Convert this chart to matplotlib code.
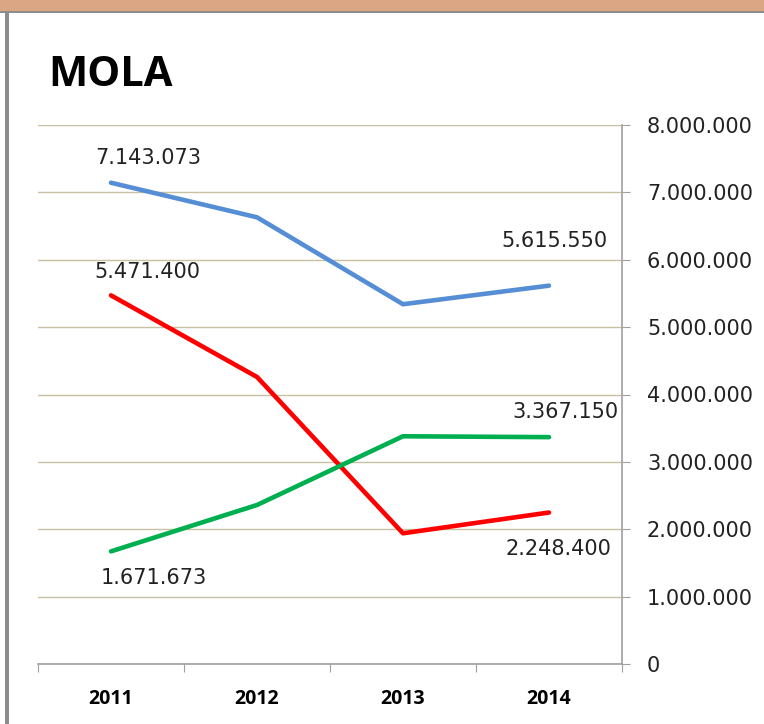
import matplotlib.pyplot as plt
from matplotlib.patches import Rectangle
from matplotlib.ticker import FuncFormatter

# Data
years = ['2011', '2012', '2013', '2014']
blue_vals = [7143073, 6630000, 5340000, 5615550]
red_vals = [5471400, 4260000, 1940000, 2248400]
green_vals = [1671673, 2360000, 3380000, 3367150]

yticks = [0, 1000000, 2000000, 3000000, 4000000, 5000000, 6000000, 7000000, 8000000]


def fmt_dot(v, pos=None):
    return f'{int(v):,}'.replace(',', '.')


fig = plt.figure(figsize=(7.64, 7.24), dpi=100)

# Frame decoration (orange strip at the top, grey border lines)
fig.patches.append(Rectangle((0, 1 - 11 / 724), 1, 11 / 724, transform=fig.transFigure,
                             facecolor='#dba683', edgecolor='none', zorder=0))
fig.patches.append(Rectangle((0, 1 - 13 / 724), 1, 2.5 / 724, transform=fig.transFigure,
                             facecolor='#8c8c8c', edgecolor='none', zorder=0))
fig.patches.append(Rectangle((5 / 764, 0), 4 / 764, 1 - 11 / 724, transform=fig.transFigure,
                             facecolor='#8c8c8c', edgecolor='none', zorder=0))

ax = fig.add_axes([38 / 764, 1 - 664 / 724, (622 - 38) / 764, (664 - 125) / 724])

x = [1, 2, 3, 4]
ax.plot(x, blue_vals, color='#558ed5', lw=3.3, solid_capstyle='round', zorder=3)
ax.plot(x, red_vals, color='#ff0000', lw=3.3, solid_capstyle='round', zorder=3)
ax.plot(x, green_vals, color='#00b050', lw=3.3, solid_capstyle='round', zorder=3)

# Data labels on first and last points
labels = [
    (1, blue_vals[0], (27, 18)),
    (4, blue_vals[3], (4, 32)),
    (1, red_vals[0], (26, 17)),
    (4, red_vals[3], (7, -26)),
    (1, green_vals[0], (31, -19)),
    (4, green_vals[3], (12, 18)),
]
for xi, yi, off in labels:
    ax.annotate(fmt_dot(yi), (xi, yi), xytext=off, textcoords='offset points',
                ha='center', va='center', fontsize=15, color='#222222',
                family='DejaVu Sans', zorder=4)

ax.set_xlim(0.5, 4.5)
ax.set_ylim(0, 8000000)

ax.set_xticks([0.5, 1.5, 2.5, 3.5, 4.5])
ax.set_xticklabels([])
ax.set_xticks(x, minor=True)
ax.set_xticklabels(years, minor=True, fontsize=14, fontweight='bold', family='Open Sans')
ax.tick_params(axis='x', which='major', length=6, color='#a0a0a0', direction='out')
ax.tick_params(axis='x', which='minor', length=0, pad=18)

ax.yaxis.tick_right()
ax.set_yticks(yticks)
ax.yaxis.set_major_formatter(FuncFormatter(fmt_dot))
ax.tick_params(axis='y', length=6, color='#a0a0a0', direction='out', pad=12,
               labelsize=15, labelcolor='#222222')
for lab in ax.get_yticklabels():
    lab.set_family('DejaVu Sans')

ax.grid(axis='y', color='#c9c1a1', lw=1.0)
ax.set_axisbelow(True)
for side in ['top', 'left']:
    ax.spines[side].set_visible(False)
ax.spines['right'].set_color('#a0a0a0')
ax.spines['bottom'].set_color('#a0a0a0')
ax.spines['right'].set_linewidth(1.2)
ax.spines['bottom'].set_linewidth(1.2)

fig.text(48 / 764, 1 - 86 / 724, 'MOLA', fontsize=30, fontweight='bold',
         family='Open Sans', ha='left', va='baseline', color='black')

fig.savefig('out.png', dpi=100)
